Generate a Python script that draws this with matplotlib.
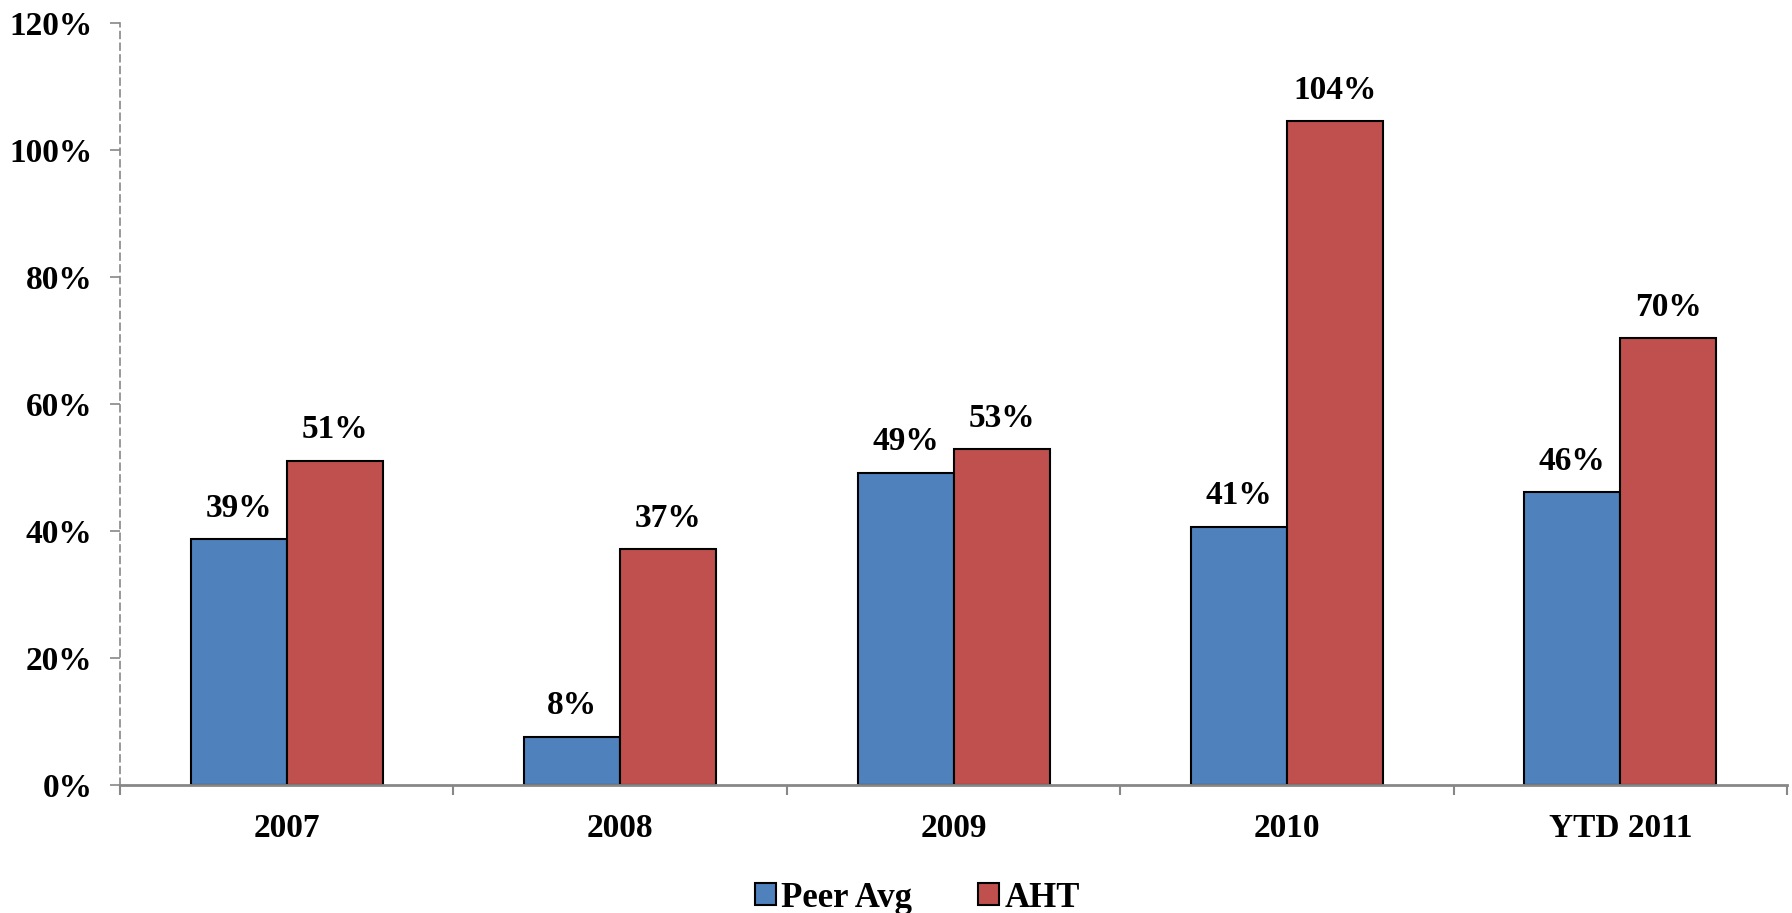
import matplotlib.pyplot as plt
import numpy as np

# Data
categories = ['2007', '2008', '2009', '2010', 'YTD 2011']
peer_avg = [38.7, 7.6, 49.2, 40.7, 46.1]
aht = [51.1, 37.1, 52.9, 104.5, 70.4]
yticks = [0, 20, 40, 60, 80, 100, 120]

plt.rcParams['font.family'] = ['Liberation Serif', 'DejaVu Serif']
plt.rcParams['font.weight'] = 'bold'

BLUE = '#4F81BD'
RED = '#C0504D'
GREY = '#878787'

fig = plt.figure(figsize=(17.92, 9.13), dpi=100)
ax = fig.add_axes([0.067, 0.1402, 0.9302, 0.8346])

x = np.arange(len(categories))
w = 0.288
b1 = ax.bar(x - w / 2, peer_avg, w, color=BLUE, edgecolor='black', linewidth=1.5, label='Peer Avg')
b2 = ax.bar(x + w / 2, aht, w, color=RED, edgecolor='black', linewidth=1.5, label='AHT')

# Data labels
for bars, vals in [(b1, peer_avg), (b2, aht)]:
    for rect, v in zip(bars, vals):
        ax.annotate(f"{v:.0f}%", (rect.get_x() + rect.get_width() / 2, v),
                    xytext=(0, 11), textcoords='offset points',
                    ha='center', va='bottom', fontsize=24, fontweight='bold')

ax.set_xlim(-0.5, len(categories) - 0.5)
ax.set_ylim(0, 120)

# Y axis
ax.set_yticks(yticks)
ax.set_yticklabels([f"{t}%" for t in yticks])
ax.tick_params(axis='y', direction='out', length=7, width=1.2, color=GREY,
               labelsize=24, pad=13)

# X axis: ticks at category boundaries, labels at centres
ax.set_xticks(np.arange(-0.5, len(categories), 1.0))
ax.set_xticklabels([])
ax.set_xticks(x, minor=True)
ax.set_xticklabels(categories, minor=True)
ax.tick_params(axis='x', which='major', direction='out', length=7, width=1.5, color=GREY)
ax.tick_params(axis='x', which='minor', length=0, labelsize=24, pad=20)

for s in ['top', 'right']:
    ax.spines[s].set_visible(False)
ax.spines['left'].set_color(GREY)
ax.spines['left'].set_linestyle((0, (4, 3)))
ax.spines['left'].set_linewidth(1.2)
ax.spines['bottom'].set_color(GREY)
ax.spines['bottom'].set_linewidth(2)

for lbl in ax.get_yticklabels() + ax.get_xticklabels(minor=True):
    lbl.set_fontweight('bold')

fig.legend(handles=[b1, b2], loc='lower center', bbox_to_anchor=(0.512, -0.036),
           ncol=2, frameon=False, handlelength=0.6, handleheight=0.6,
           handletextpad=0.15, columnspacing=1.9, prop={'weight': 'bold', 'size': 25})

plt.savefig('out.png', dpi=100)
